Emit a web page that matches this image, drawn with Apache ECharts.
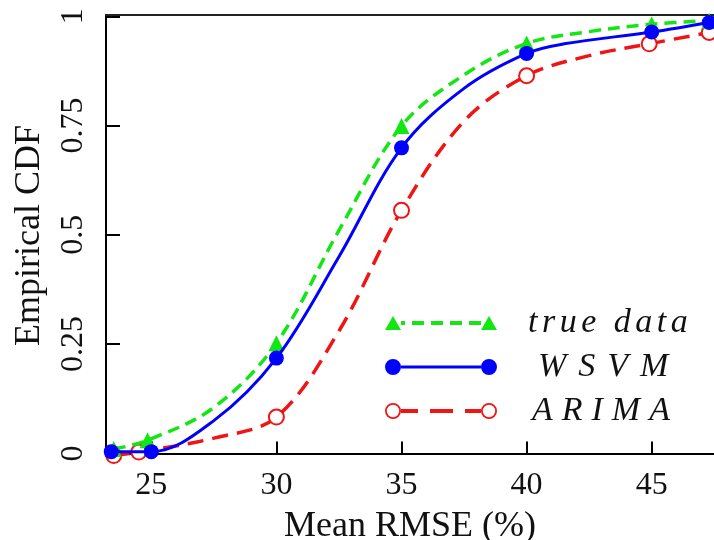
<!DOCTYPE html>
<html><head><meta charset="utf-8">
<script src="https://cdn.jsdelivr.net/npm/echarts@6/dist/echarts.min.js"></script>
<style>html,body{margin:0;padding:0;background:#fff}#c{width:714px;height:540px}</style>
</head><body><div id="c"></div>
<script>
// ---- data ----
const xTicks = [25, 30, 35, 40, 45];
const yTicks = [0, 0.25, 0.5, 0.75, 1];
const seriesNames = ['true data', 'WSVM', 'ARIMA'];

const trueX = [23.5, 24.85, 27.5, 30, 32.5, 35, 37.5, 40, 42.5, 45, 47.3];
const trueY = [0.01, 0.03, 0.105, 0.252, 0.51, 0.749, 0.866, 0.938, 0.965, 0.982, 0.99];
const trueMark = [1, 1, 0, 1, 0, 1, 0, 1, 0, 1, 1];

const wsvmX = [23.4, 25, 27.5, 30, 32.5, 35, 37.5, 40, 41.5, 45, 47.3];
const wsvmY = [0.004, 0.004, 0.075, 0.218, 0.45, 0.699, 0.835, 0.915, 0.937, 0.964, 0.986];
const wsvmMark = [1, 1, 0, 1, 0, 1, 0, 1, 0, 1, 1];

const arimaX = [23.5, 24.5, 27.5, 30, 32.5, 35, 37.5, 40, 42.5, 44.9, 47.3];
const arimaY = [-0.005, 0.003, 0.035, 0.083, 0.28, 0.556, 0.76, 0.864, 0.91, 0.937, 0.963];
const arimaMark = [1, 1, 0, 1, 0, 1, 0, 1, 0, 1, 1];

// ---- chart ----
const SERIF = '"Liberation Serif", "DejaVu Serif", serif';
const GREEN = '#14e614', BLUE = '#0000ff', RED = '#f01414';

function pts(xs, ys, marks) {
  return xs.map((x, i) => marks[i] ? [x, ys[i]] : { value: [x, ys[i]], symbol: 'none' });
}

const iconTrue = 'path://M0 18 L8 4 L16 18 Z M96 18 L104 4 L112 18 Z' +
  ' M16 9 L20 9 L20 13 L16 13 Z M27 9 L39 9 L39 13 L27 13 Z M46 9 L58 9 L58 13 L46 13 Z M65 9 L77 9 L77 13 L65 13 Z M84 9 L96 9 L96 13 L84 13 Z';
const iconWsvm = 'path://M0 10 A8 8 0 1 1 16 10 A8 8 0 1 1 0 10 Z M96 10 A8 8 0 1 1 112 10 A8 8 0 1 1 96 10 Z M16 8.5 L96 8.5 L96 11.5 L16 11.5 Z';
const iconArima = 'path://M0 10 A8 8 0 1 1 16 10 A8 8 0 1 1 0 10 Z M1.8 10 A6.2 6.2 0 1 0 14.2 10 A6.2 6.2 0 1 0 1.8 10 Z' +
  ' M96 10 A8 8 0 1 1 112 10 A8 8 0 1 1 96 10 Z M97.8 10 A6.2 6.2 0 1 0 110.2 10 A6.2 6.2 0 1 0 97.8 10 Z' +
  ' M16 8 L33 8 L33 12 L16 12 Z M45 8 L68 8 L68 12 L45 12 Z M80 8 L96 8 L96 12 L80 12 Z';

const legendLead = { 'true data': 26, 'WSVM': 36, 'ARIMA': 30 };
const legendGap = { 'true data': 4.5, 'WSVM': 12, 'ARIMA': 9 };
const rich = {};
Object.keys(legendLead).forEach((n, k) => {
  const base = { fontFamily: SERIF, fontStyle: 'italic', fontSize: 34, color: '#111', lineHeight: 40 };
  rich['f' + k] = Object.assign({}, base, { padding: [0, legendGap[n], 0, legendLead[n]] });
  rich['m' + k] = Object.assign({}, base, { padding: [0, legendGap[n], 0, 0] });
  rich['l' + k] = Object.assign({}, base, { padding: [0, 0, 0, 0] });
});

const chart = echarts.init(document.getElementById('c'), null, { renderer: 'canvas' });
chart.setOption({
  animation: false,
  backgroundColor: '#fff',
  grid: { left: 106, right: 0, top: 15, bottom: 84, containLabel: false, outerBoundsMode: 'none' },
  xAxis: [{
    type: 'value', min: 23.19, max: 47.49,
    name: 'Mean RMSE (%)', nameLocation: 'middle', nameGap: 53,
    nameTextStyle: { fontFamily: SERIF, fontSize: 36, color: '#111' },
    axisLine: { show: true, lineStyle: { color: '#000', width: 2 } },
    axisTick: { show: true, inside: true, length: 12, lineStyle: { color: '#000', width: 2 }, customValues: xTicks },
    axisLabel: { fontFamily: SERIF, fontSize: 32, color: '#111', margin: 14, customValues: xTicks },
    splitLine: { show: false }
  }, {
    type: 'value', min: 23.19, max: 47.49, position: 'top',
    axisLine: { show: true, onZero: false, lineStyle: { color: '#222', width: 2 } },
    axisTick: { show: false }, axisLabel: { show: false }, splitLine: { show: false }
  }],
  yAxis: {
    type: 'value', min: -0.006, max: 1.003,
    name: 'Empirical CDF', nameLocation: 'middle', nameGap: 58, nameRotate: 90,
    nameTextStyle: { fontFamily: SERIF, fontSize: 36, color: '#111' },
    axisLine: { show: true, onZero: false, lineStyle: { color: '#000', width: 2 } },
    axisTick: { show: true, inside: true, length: 14, lineStyle: { color: '#000', width: 2 }, customValues: yTicks },
    axisLabel: { fontFamily: SERIF, fontSize: 32, color: '#111', rotate: 90, margin: 16, customValues: yTicks,
      formatter: v => String(v) },
    splitLine: { show: false }
  },
  legend: {
    orient: 'vertical', left: 385, top: 306, padding: 0, itemGap: 10,
    itemWidth: 112, itemHeight: 20, selectedMode: false,
    itemStyle: { borderWidth: 0 },
    data: [
      { name: seriesNames[0], icon: iconTrue, itemStyle: { color: GREEN, borderWidth: 0 } },
      { name: seriesNames[1], icon: iconWsvm, itemStyle: { color: BLUE, borderWidth: 0 } },
      { name: seriesNames[2], icon: iconArima, itemStyle: { color: RED, borderWidth: 0 } }
    ],
    formatter: function (name) {
      const k = seriesNames.indexOf(name);
      const ch = name.split('');
      return ch.map((c, i) => '{' + (i === 0 ? 'f' : (i === ch.length - 1 ? 'l' : 'm')) + k + '|' + c + '}').join('');
    },
    textStyle: { fontFamily: SERIF, fontStyle: 'italic', fontSize: 34, color: '#111', rich: rich }
  },
  series: [{
    name: seriesNames[0], type: 'line', data: pts(trueX, trueY, trueMark),
    smooth: 0.35, clip: false, z: 3,
    symbol: 'triangle', symbolSize: 16, showAllSymbol: true,
    lineStyle: { color: GREEN, width: 3.5, type: [12, 7] },
    itemStyle: { color: GREEN }
  }, {
    name: seriesNames[1], type: 'line', data: pts(wsvmX, wsvmY, wsvmMark),
    smooth: 0.35, clip: false, z: 4,
    symbol: 'circle', symbolSize: 15, showAllSymbol: true,
    lineStyle: { color: BLUE, width: 3 },
    itemStyle: { color: BLUE }
  }, {
    name: seriesNames[2], type: 'line', data: pts(arimaX, arimaY, arimaMark),
    smooth: 0.35, clip: false, z: 2,
    symbol: 'emptyCircle', symbolSize: 15, showAllSymbol: true,
    lineStyle: { color: RED, width: 3.5, type: [16, 9] },
    itemStyle: { color: RED, borderWidth: 1.5 }
  }]
});
</script>
</body></html>
